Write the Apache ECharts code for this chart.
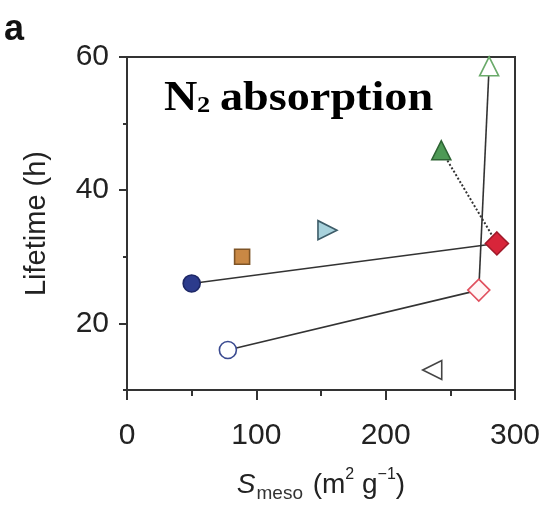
<!DOCTYPE html>
<html>
<head>
<meta charset="utf-8">
<script src="https://cdn.jsdelivr.net/npm/echarts@6/dist/echarts.min.js"></script>
<style>
  html, body { margin: 0; padding: 0; background: #ffffff; }
  #chart { width: 545px; height: 505px; }
</style>
</head>
<body>
<div id="chart"></div>
<script>
// Mesopore surface area (m2/g) and catalyst lifetime (h) for each sample
const sMeso    = [50, 78, 89, 155, 243, 286, 272, 280, 236];
const lifetime = [26, 16, 30, 34, 46, 32, 25, 58.6, 13];

// Pairs of samples joined by a line: [from, to, dashed]
const links = [
  [0, 5, false],
  [1, 6, false],
  [4, 5, true],
  [6, 7, false]
];

// Axis ticks
const xTicks = [0, 100, 200, 300];
const yTicks = [20, 40, 60];

// Marker appearance per sample
const markers = [
  { symbol: 'circle',   size: 17, rotate: 0,   fill: '#2c3b8c', stroke: '#1d2766' },
  { symbol: 'circle',   size: 17, rotate: 0,   fill: '#ffffff', stroke: '#3a4a90' },
  { symbol: 'rect',     size: 15, rotate: 0,   fill: '#c98844', stroke: '#7e5426' },
  { symbol: 'triangle', size: 19, rotate: -90, fill: '#a8d2dc', stroke: '#3d5c68' },
  { symbol: 'triangle', size: 19, rotate: 0,   fill: '#4e9a56', stroke: '#2e6434' },
  { symbol: 'diamond',  size: 23, rotate: 0,   fill: '#d8253a', stroke: '#a01a2a' },
  { symbol: 'diamond',  size: 22, rotate: 0,   fill: '#fff6f6', stroke: '#e0505e' },
  { symbol: 'triangle', size: 19, rotate: 0,   fill: '#ffffff', stroke: '#6aaa6a' },
  { symbol: 'triangle', size: 19, rotate: 90,  fill: '#ffffff', stroke: '#444444' }
];

const chart = echarts.init(document.getElementById('chart'), null, { renderer: 'canvas' });

const series = [];
links.forEach(([a, b, dashed]) => {
  series.push({
    type: 'line',
    data: [[sMeso[a], lifetime[a]], [sMeso[b], lifetime[b]]],
    symbol: 'none',
    silent: true,
    z: 1,
    lineStyle: { color: '#333333', width: dashed ? 2 : 1.6, type: dashed ? [2, 2] : 'solid' }
  });
});
sMeso.forEach((x, i) => {
  const m = markers[i];
  series.push({
    type: 'scatter',
    data: [[x, lifetime[i]]],
    symbol: m.symbol,
    symbolSize: m.size,
    symbolRotate: m.rotate,
    z: 3,
    itemStyle: { color: m.fill, borderColor: m.stroke, borderWidth: 1.6, opacity: 1 }
  });
});

const sans = 'Liberation Sans, Arial, sans-serif';
const tickFont = { fontFamily: sans, fontSize: 30, color: '#222' };
const nameFont = { fontFamily: sans, fontSize: 29, color: '#222' };

chart.setOption({
  animation: false,
  backgroundColor: '#ffffff',
  grid: {
    left: 127, right: 30, top: 57, bottom: 115,
    outerBoundsMode: 'none', containLabel: false,
    show: true, borderColor: '#333', borderWidth: 2, backgroundColor: 'transparent'
  },
  xAxis: {
    type: 'value', min: xTicks[0], max: xTicks[xTicks.length - 1], interval: 100,
    axisLine: { show: true, lineStyle: { color: '#333', width: 2 } },
    axisTick: { show: true, inside: false, length: 10, lineStyle: { color: '#333', width: 2 } },
    minorTick: { show: true, splitNumber: 2, length: 6, lineStyle: { color: '#333', width: 2 } },
    splitLine: { show: false },
    axisLabel: Object.assign({ margin: 31 }, tickFont),
    name: '{it|S}{sub|meso}{n| (m}{sup|2}{n| g}{sup|−1}{n|)}',
    nameLocation: 'middle',
    nameGap: 77,
    nameTextStyle: {
      rich: {
        it:  { fontFamily: sans, fontStyle: 'italic', fontSize: 28, color: '#222', lineHeight: 36 },
        n:   { fontFamily: sans, fontSize: 28, color: '#222', lineHeight: 36 },
        sub: { fontFamily: sans, fontSize: 19, color: '#333', lineHeight: 36, verticalAlign: 'bottom', padding: [0, 2, 0, 1] },
        sup: { fontFamily: sans, fontSize: 16, color: '#222', lineHeight: 36, verticalAlign: 'top' }
      }
    }
  },
  yAxis: [
    {
      type: 'value', min: 10, max: 60, interval: 10,
      axisLine: { show: true, lineStyle: { color: '#333', width: 2 } },
      axisTick: { show: true, inside: false, length: 8, customValues: yTicks, lineStyle: { color: '#333', width: 2 } },
      splitLine: { show: false },
      axisLabel: Object.assign({ margin: 18, customValues: yTicks }, tickFont),
      name: 'Lifetime (h)',
      nameLocation: 'middle',
      nameGap: 76,
      nameTextStyle: nameFont
    },
    {
      // short ticks every 10 h
      type: 'value', min: 10, max: 60, interval: 10, position: 'left',
      axisLine: { show: false },
      axisTick: { show: true, inside: false, length: 4, lineStyle: { color: '#333', width: 2 } },
      axisLabel: { show: false },
      splitLine: { show: false }
    }
  ],
  graphic: [
    {
      type: 'text', left: 4, top: 12,
      style: { text: 'a', font: 'bold 36px "Liberation Sans", Arial, sans-serif', fill: '#111' }
    },
    {
      type: 'group', left: 164, top: 78,
      children: [
        { type: 'text', x: 0, y: 0, scaleX: 1.1,
          style: { text: 'N', font: 'bold 42px "Liberation Serif", "Times New Roman", serif', fill: '#000' } },
        { type: 'text', x: 33, y: 16, scaleX: 1.1,
          style: { text: '2', font: 'bold 24px "Liberation Serif", "Times New Roman", serif', fill: '#000' } },
        { type: 'text', x: 56, y: 0, scaleX: 1.1,
          style: { text: 'absorption', font: 'bold 42px "Liberation Serif", "Times New Roman", serif', fill: '#000' } }
      ]
    }
  ],
  series: series
});
</script>
</body>
</html>
